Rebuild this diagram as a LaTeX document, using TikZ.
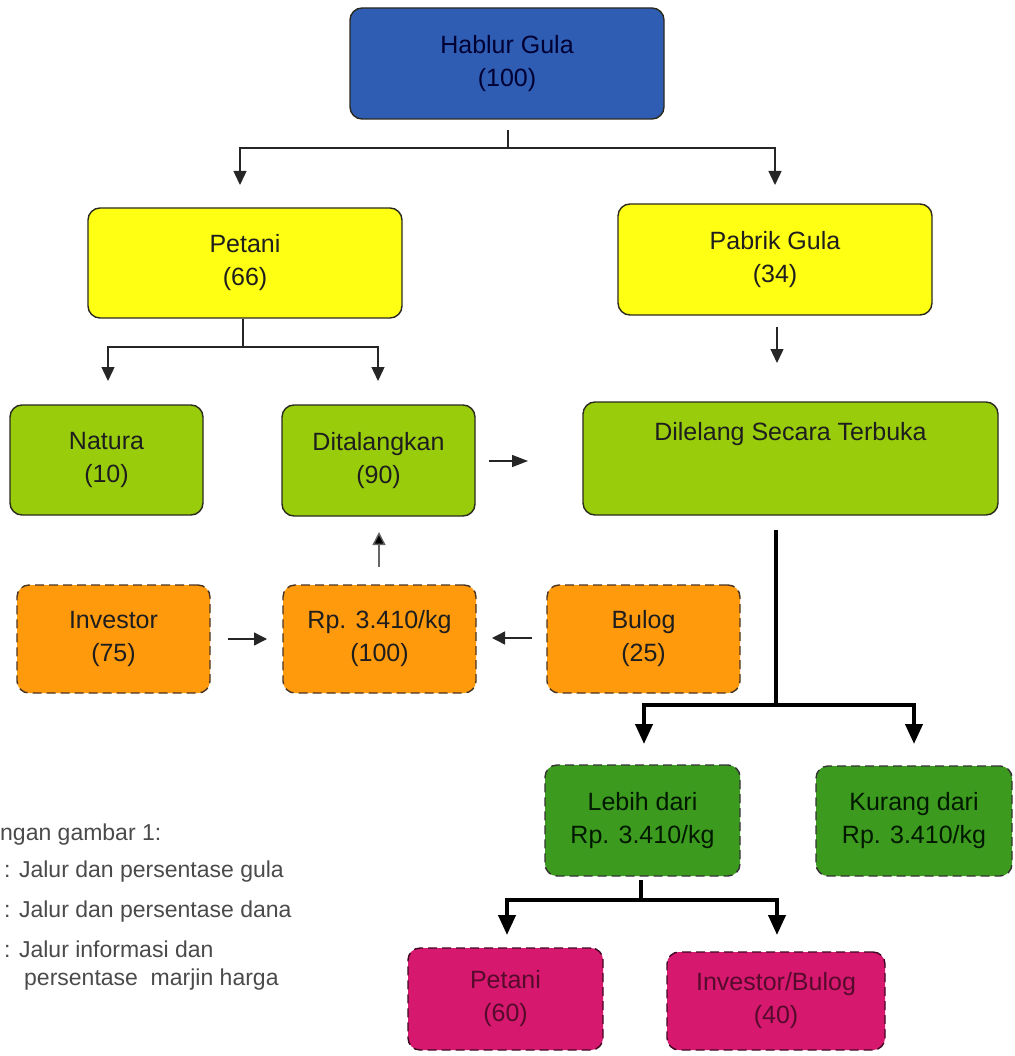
\documentclass[tikz,border=0pt]{standalone}
\usepackage{fontspec}
\setmainfont{Liberation Sans}
\usetikzlibrary{arrows.meta,calc}
\definecolor{cblue}{HTML}{2F5DB3}
\definecolor{cyellow}{HTML}{FFFF14}
\definecolor{clime}{HTML}{99CC0A}
\definecolor{corange}{HTML}{FF9A0D}
\definecolor{cgreen}{HTML}{3C9A1E}
\definecolor{cmag}{HTML}{D6186F}
\definecolor{cborder}{HTML}{2A2A1E}
\definecolor{cdash}{HTML}{4A3422}
\definecolor{ctext}{HTML}{1E1E1E}
\definecolor{clegend}{HTML}{4A4A4A}
\tikzset{
  box/.style={rectangle, rounded corners=12pt, draw=cborder, line width=1.4pt,
    align=center, inner sep=0pt, text=ctext,
    font=\fontsize{25}{33}\selectfont},
  dbox/.style={box, draw=cdash, dash pattern=on 9pt off 5pt},
  thinarr/.style={draw=black!85, line width=1.4pt, -{Triangle[width=13pt,length=14pt]}},
  smallarr/.style={draw=black!85, line width=1.4pt, -{Triangle[width=13pt,length=13pt]}},
  thinline/.style={draw=black!85, line width=1.4pt},
  thickarr/.style={draw=black, line width=4pt, -{Triangle[width=17pt,length=20pt]}},
  thickline/.style={draw=black, line width=4pt},
  legend/.style={anchor=base west, inner sep=0pt, text=clegend, font=\fontsize{23}{28}\selectfont}
}
\begin{document}
\begin{tikzpicture}[x=1pt,y=-1pt]
\useasboundingbox (0,0) rectangle (1014,1056);
% boxes
\node[box, fill=cblue, text=black!80!blue, minimum width=314pt, minimum height=111pt] (hab) at (507,63.5) {Hablur Gula\\(100)};
\node[box, fill=cyellow, minimum width=314pt, minimum height=110pt] (pet) at (245,263) {Petani\\(66)};
\node[box, fill=cyellow, minimum width=314pt, minimum height=111pt] (pab) at (775,259.5) {Pabrik Gula\\(34)};
\node[box, fill=clime, minimum width=193pt, minimum height=110pt] (nat) at (106.5,460) {Natura\\(10)};
\node[box, fill=clime, minimum width=193pt, minimum height=111pt] (dit) at (378.5,460.5) {Ditalangkan\\(90)};
\node[box, fill=clime, minimum width=415pt, minimum height=113pt] (dil) at (790.5,458.5) {Dilelang Secara Terbuka\\[12pt]\strut};
\node[dbox, fill=corange, minimum width=193pt, minimum height=108pt] (inv) at (113.5,639) {Investor\\(75)};
\node[dbox, fill=corange, minimum width=193pt, minimum height=108pt] (rp) at (379.5,639) {Rp. 3.410/kg\\(100)};
\node[dbox, fill=corange, minimum width=193pt, minimum height=108pt] (bul) at (643.5,639) {Bulog\\(25)};
\node[dbox, draw=black!80, fill=cgreen, text=black!90!green, minimum width=195pt, minimum height=111pt] (leb) at (642.5,820.5) {Lebih dari\\Rp. 3.410/kg};
\node[dbox, draw=black!80, fill=cgreen, text=black!90!green, minimum width=196pt, minimum height=110pt] (kur) at (914,821) {Kurang dari\\Rp. 3.410/kg};
\node[dbox, draw=black!70!cmag, fill=cmag, text=black!60!cmag, minimum width=195pt, minimum height=102pt] (pt2) at (505.5,999) {Petani\\(60)};
\node[dbox, draw=black!70!cmag, fill=cmag, text=black!60!cmag, minimum width=218pt, minimum height=98pt] (ib) at (776,1001) {Investor/Bulog\\(40)};
% connector coordinates
\coordinate (hs) at (508,130);
\coordinate (hj) at (508,148);
\coordinate (hL) at (240,185);
\coordinate (hR) at (775,185);
\coordinate (pj) at (243,347);
\coordinate (pL) at (108,381);
\coordinate (pR) at (378,381);
\coordinate (ps) at (777,327);
\coordinate (pe) at (777,363);
\coordinate (ds) at (489,461);
\coordinate (de) at (528,461);
\coordinate (ls) at (776,530);
\coordinate (lj) at (776,705);
\coordinate (lL) at (644,744);
\coordinate (lR) at (914,744);
\coordinate (bs) at (641,880);
\coordinate (bj) at (641,900);
\coordinate (bL) at (507,935);
\coordinate (bR) at (777,935);
\coordinate (is) at (228,639);
\coordinate (ie) at (267,639);
\coordinate (gs) at (532,638);
\coordinate (ge) at (492,638);
\coordinate (us) at (379,567);
\coordinate (ue) at (379,532);
% connectors
\draw[thinline] (hs) -- (hj);
\draw[thinarr] (hj) -| (hL);
\draw[thinarr] (hj) -| (hR);
\draw[thinline] (pet.south -| pj) -- (pj);
\draw[thinarr] (pj) -| (pL);
\draw[thinarr] (pj) -| (pR);
\draw[thinarr] (ps) -- (pe);
\draw[thinarr, -{Triangle[width=12pt,length=16pt]}] (ds) -- (de);
\draw[thickline] (ls) -- (lj);
\draw[thickarr] (lj) -| (lL);
\draw[thickarr] (lj) -| (lR);
\draw[thickline] (bs) -- (bj);
\draw[thickarr] (bj) -| (bL);
\draw[thickarr] (bj) -| (bR);
\draw[smallarr] (is) -- (ie);
\draw[smallarr] (gs) -- (ge);
\draw[smallarr, draw=black!60, -{Triangle[width=13pt,length=13pt,fill=black]}] (us) -- (ue);
% legend
\node[legend] (l0) at (0,840) {ngan gambar 1:};
\node[legend] (l1) at (4,877) {: Jalur dan persentase gula};
\node[legend] (l2) at (4,917) {: Jalur dan persentase dana};
\node[legend] (l3) at (4,957) {: Jalur informasi dan};
\node[legend] (l4) at (24,985) {persentase\ \ marjin harga};
\end{tikzpicture}
\end{document}
